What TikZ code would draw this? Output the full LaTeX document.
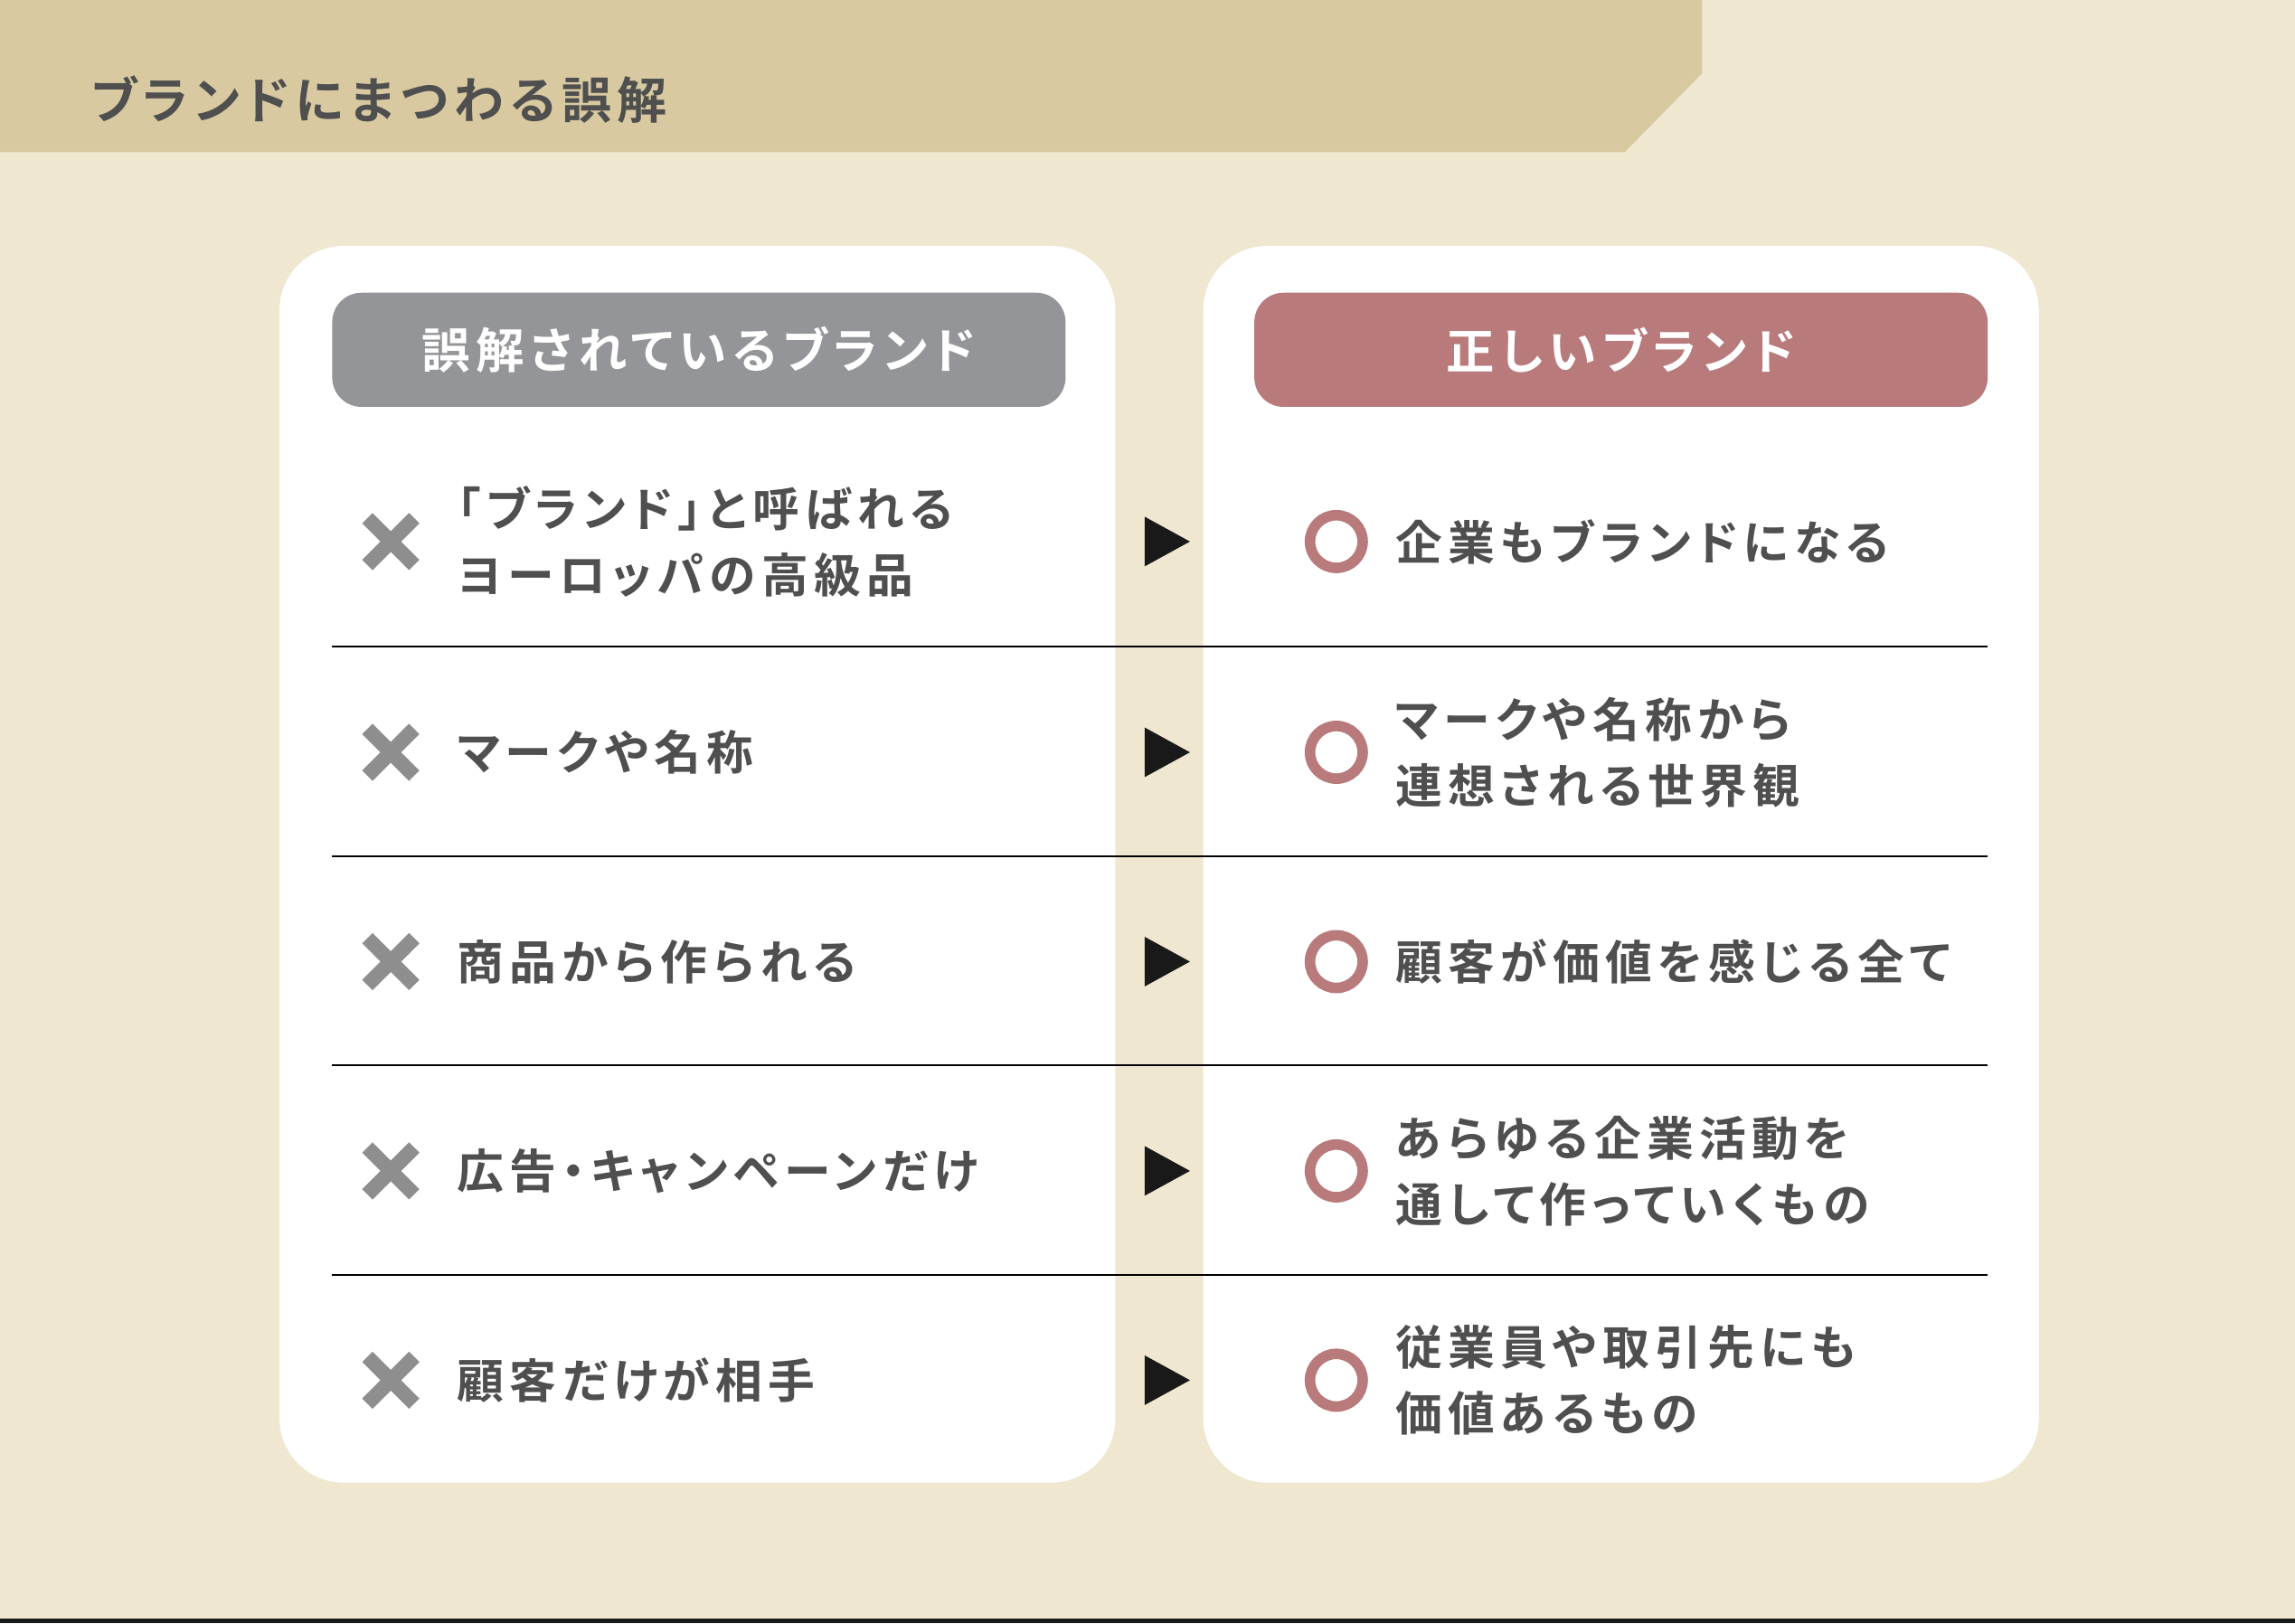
\documentclass[tikz,border=0pt]{standalone}
\usepackage{fontspec}
\setmainfont{Noto Sans CJK JP}[BoldFont={* Bold}]
\newfontfamily\jpb{Noto Sans CJK JP Bold}[LetterSpace=12,RawFeature=+palt]
\definecolor{bg}{HTML}{F0E7D0}
\definecolor{banner}{HTML}{D8C9A0}
\definecolor{txt}{HTML}{4F4F4F}
\definecolor{grayh}{HTML}{939598}
\definecolor{rose}{HTML}{B87A7A}
\definecolor{xg}{HTML}{8E8E8E}
\tikzset{
  item/.style={anchor=west,align=left,text=txt,font=\jpb\fontsize{16pt}{22.5pt}\selectfont,inner sep=0},
  hdr/.style={rounded corners=10pt,minimum width=250.5pt,minimum height=39pt,text=white,font=\jpb\fontsize{16.5pt}{20pt}\selectfont,inner sep=0},
  card/.style={fill=white,rounded corners=22pt},
  sep/.style={line width=0.6pt,black},
  tri/.style={fill=black!90},
  ring/.style={draw=rose,line width=3.6pt,circle,minimum size=18pt,inner sep=0},
}
\begin{document}
\begin{tikzpicture}[x=0.5pt,y=-0.5pt]
\useasboundingbox (0,0) rectangle (1568,1109);
\fill[bg] (0,0) rectangle (1568,1109);
\fill[black!90] (0,1106) rectangle (1568,1109);
\fill[banner] (0,0) -- (1163,0) -- (1163,50) -- (1110,104) -- (0,104) -- cycle;
\node[anchor=west,text=txt,inner sep=0,font=\jpb\fontsize{17pt}{20pt}\selectfont] (title) at (62,68) {ブランドにまつわる誤解};
\fill[card] (191,168) rectangle (762,1013);
\fill[card] (822,168) rectangle (1393,1013);
\node[hdr,fill=grayh] (hl) at (477.5,239) {誤解されているブランド};
\node[hdr,fill=rose] (hr) at (1107.5,239) {正しいブランド};
\foreach \y in {442,585,728,871} \draw[sep] (227,\y) -- (1358,\y);
\foreach \y [count=\i] in {370,514,657,800,943}{
  \draw[xg,line width=5pt] (251,\y-16) -- (283,\y+16) (251,\y+16) -- (283,\y-16);
  \fill[tri] (782,\y-17) -- (813,\y) -- (782,\y+17) -- cycle;
  \node[ring] (o\i) at (913,\y) {};
}
\node[item] (l1) at (312,370) {「ブランド」と呼ばれる\\ヨーロッパの高級品};
\node[item] (l2) at (312,514) {マークや名称};
\node[item] (l3) at (312,657) {商品から作られる};
\node[item] (l4) at (312,800) {広告・キャンペーンだけ};
\node[item] (l5) at (312,943) {顧客だけが相手};
\node[item] (r1) at (953,370) {企業もブランドになる};
\node[item] (r2) at (953,514) {マークや名称から\\連想される世界観};
\node[item] (r3) at (953,657) {顧客が価値を感じる全て};
\node[item] (r4) at (953,800) {あらゆる企業活動を\\通して作っていくもの};
\node[item] (r5) at (953,943) {従業員や取引先にも\\価値あるもの};
\end{tikzpicture}
\end{document}
